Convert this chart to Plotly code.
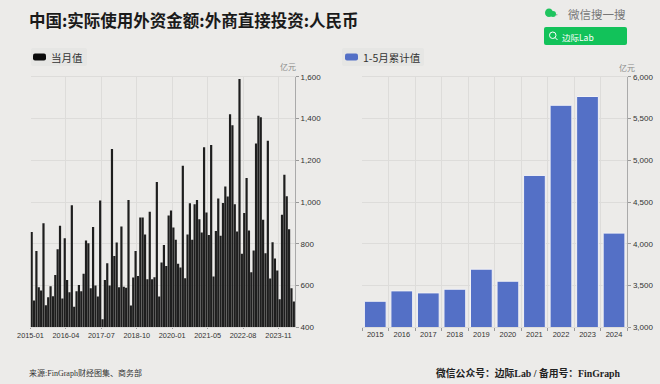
import plotly.graph_objects as go

W, H = 660, 384

# Monthly data: one month (2021-01) is absent in the source axis
months = []
for yr in range(2015, 2025):
    for mo in range(1, 13):
        if (yr, mo) == (2021, 1) or (yr, mo) > (2024, 5):
            continue
        months.append(f"{yr}-{mo:02d}")

monthly_values = [
    857, 528, 766, 592, 576, 899, 506, 544, 597, 549, 650, 774, 886, 538, 827,
    627, 568, 985, 498, 573, 603, 573, 656, 816, 803, 587, 880, 600, 547, 1008,
    438, 627, 707, 600, 1254, 742, 806, 592, 883, 594, 589, 1010, 504, 638, 766,
    646, 926, 926, 845, 630, 954, 630, 640, 1096, 547, 710, 794, 694, 936, 960,
    878, 819, 704, 686, 1174, 635, 845, 994, 819, 990, 1010, 918, 854, 1262, 950,
    842, 1273, 643, 861, 1017, 838, 995, 1075, 1027, 1420, 1368, 990, 859, 1590, 752,
    947, 1115, 864, 664, 768, 1281, 1414, 1406, 915, 755, 1294, 634, 808, 730, 672,
    534, 939, 1131, 1028, 870, 587, 523,
]
monthly_ticks = ["2015-01", "2016-04", "2017-07", "2018-10", "2020-01", "2021-05", "2022-08", "2023-11"]

years = ["2015", "2016", "2017", "2018", "2019", "2020", "2021", "2022", "2023", "2024"]
ytd_values = [3312, 3436, 3412, 3456, 3696, 3552, 4819, 5659, 5764, 4128]

left_ticks = [400, 600, 800, 1000, 1200, 1400, 1600]
right_ticks = [3000, 3500, 4000, 4500, 5000, 5500, 6000]

BG = "#ECEBE9"
GRID = "#DDDCDA"
SANS = "Liberation Sans, Arial, Noto Sans CJK SC"
CJK = "Noto Sans CJK SC, Liberation Sans"
SERIF = "Liberation Serif, Noto Sans CJK SC"


def px(x):
    return x / W


def py(y):
    return 1 - y / H


fig = go.Figure()
fig.add_bar(x=list(range(len(monthly_values))), y=monthly_values, xaxis="x", yaxis="y",
            marker=dict(color="#1E1E1E", line=dict(width=0)), width=0.93, name="当月值")
fig.add_bar(x=years, y=ytd_values, xaxis="x2", yaxis="y2",
            marker=dict(color="#5470C6", line=dict(color="#F2F2F6", width=1)), width=0.82, name="1-5月累计值")

tick_font = dict(family=SANS, size=8, color="#333333")
axis_common = dict(showgrid=True, gridcolor=GRID, gridwidth=1, ticks="outside",
                   tickcolor="#999999", zeroline=False, automargin=False)

fig.update_layout(
    width=W, height=H, autosize=False, margin=dict(l=0, r=0, t=0, b=0, pad=0, autoexpand=False),
    paper_bgcolor=BG, plot_bgcolor=BG, showlegend=False,
    xaxis=dict(domain=[px(30.5), px(295)], range=[-0.5, len(monthly_values) - 0.5],
               tickvals=[months.index(m) - 0.5 for m in monthly_ticks], ticktext=monthly_ticks,
               tickfont=dict(family=SANS, size=7.3, color="#333333"), anchor="y", ticklen=1,
               showline=True, linecolor=GRID, mirror=True, **axis_common),
    yaxis=dict(domain=[py(327.3), py(76.8)], range=[400, 1600], side="right", anchor="x", ticklen=3,
               tickvals=left_ticks, tickformat=",", tickfont=tick_font,
               showline=True, linecolor="#AAAAAA", **axis_common),
    xaxis2=dict(domain=[px(362), px(627.3)], type="category", categoryorder="array", categoryarray=years,
                tickson="boundaries", tickfont=dict(family=SANS, size=7.5, color="#333333"), anchor="y2", ticklen=3,
                showline=True, linecolor=GRID, mirror=True, **axis_common),
    yaxis2=dict(domain=[py(327.3), py(76.8)], range=[3000, 6000], side="right", anchor="x2", ticklen=3,
                tickvals=right_ticks, tickformat=",", tickfont=tick_font,
                showline=True, linecolor="#AAAAAA", **axis_common),
)


def text(x, y, s, size, color="#333333", family=CJK, anchor="left", weight=None):
    fig.add_annotation(xref="paper", yref="paper", x=px(x), y=py(y), text=s, showarrow=False,
                       xanchor=anchor, yanchor="middle", align=anchor, borderpad=0,
                       font=dict(family=family, size=size, color=color, weight=weight))


def rect(x0, y0, x1, y1, fill, radius=0):
    r = radius
    path = (f"M {px(x0 + r)} {py(y0)} L {px(x1 - r)} {py(y0)} Q {px(x1)} {py(y0)} {px(x1)} {py(y0 + r)} "
            f"L {px(x1)} {py(y1 - r)} Q {px(x1)} {py(y1)} {px(x1 - r)} {py(y1)} "
            f"L {px(x0 + r)} {py(y1)} Q {px(x0)} {py(y1)} {px(x0)} {py(y1 - r)} "
            f"L {px(x0)} {py(y0 + r)} Q {px(x0)} {py(y0)} {px(x0 + r)} {py(y0)} Z")
    fig.add_shape(type="path", path=path, xref="paper", yref="paper", fillcolor=fill,
                  line=dict(width=0), layer="above")


def circle(x0, y0, x1, y1, fill="rgba(0,0,0,0)", line=None):
    fig.add_shape(type="circle", xref="paper", yref="paper", x0=px(x0), x1=px(x1), y0=py(y1), y1=py(y0),
                  fillcolor=fill, line=dict(color=line or fill, width=1 if line else 0), layer="above")


# Title
text(28, 20, "中国:实际使用外资金额:外商直接投资:人民币", 16.5, "#1A1A1A", weight="bold")

# Legend chips
rect(31, 48, 87, 66, "#E6E6E4", radius=2)
rect(33, 53.5, 46, 60.5, "#0A0A0A", radius=2)
text(49.5, 57, "当月值", 10.5, "#333333")
rect(342, 48, 424, 66, "#E6E6E4", radius=2)
rect(345, 53.5, 358, 60.5, "#5470C6", radius=2)
text(361.5, 57, "1-5月累计值", 10.5, "#333333")

# Units
text(288, 67, "亿元", 8, "#8A8A8A", anchor="center")
text(627, 67.5, "亿元", 8, "#8A8A8A", anchor="center")

# WeChat search badge
circle(545, 8.5, 553, 17, "#1FC45F")
circle(550, 11, 556, 17, "#1FC45F")
circle(556, 14, 557.5, 15.5, "#9AA09C")
text(567, 14.5, "微信搜一搜", 11.5, "#777777")
rect(544, 27, 627, 45, "#12C25A", radius=2)
circle(549.5, 32, 556, 38.5, line="#FFFFFF")
fig.add_shape(type="line", xref="paper", yref="paper", x0=px(555), x1=px(557.5), y0=py(37.5), y1=py(40),
              line=dict(color="#FFFFFF", width=1), layer="above")
text(561, 36.5, "边际Lab", 8.5, "#FFFFFF")

# Footer
text(28, 373, "来源:FinGraph财经图集、商务部", 8, "#333333", family=SERIF)
text(622, 373, "微信公众号：边际Lab / 备用号：FinGraph", 9.8, "#222222", family=SERIF, anchor="right", weight="bold")

fig.write_html("out.html", config={"displayModeBar": False},
               post_script="document.body.style.margin='0';window.dispatchEvent(new Event('resize'));")
